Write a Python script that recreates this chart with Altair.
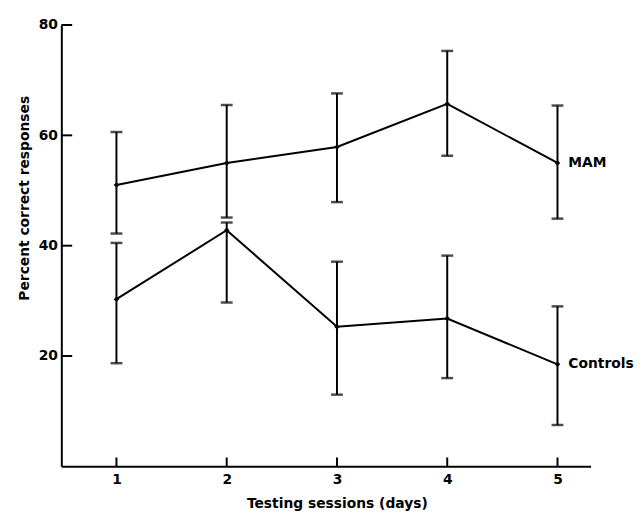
import altair as alt
import pandas as pd

sessions = [1, 2, 3, 4, 5]
groups = ["MAM", "Controls"]
mam_mean = [51.0, 55.0, 57.9, 65.7, 55.0]
mam_upper = [60.6, 65.5, 67.6, 75.3, 65.4]
mam_lower = [42.2, 45.1, 47.9, 56.3, 44.9]
ctrl_mean = [30.3, 42.8, 25.3, 26.8, 18.5]
ctrl_upper = [40.5, 44.2, 37.1, 38.2, 29.0]
ctrl_lower = [18.7, 29.7, 13.0, 16.0, 7.5]
x_ticks = [1, 2, 3, 4, 5]
y_ticks = [20, 40, 60, 80]

rows = []
for g, m, hi, lo in [("MAM", mam_mean, mam_upper, mam_lower),
                     ("Controls", ctrl_mean, ctrl_upper, ctrl_lower)]:
    for s, a, b, c in zip(sessions, m, hi, lo):
        rows.append({"group": g, "session": s, "pct": a, "hi": b, "lo": c})
df = pd.DataFrame(rows)
last = df[df["session"] == sessions[-1]]
xt = pd.DataFrame({"session": x_ticks})
yt = pd.DataFrame({"pct": y_ticks})

FONT = "DejaVu Sans"
xs = alt.Scale(domain=[0.5, 5.3], nice=False, zero=False)
ys = alt.Scale(domain=[0, 80], nice=False, zero=True)
XT = "Testing sessions (days)"
YT = "Percent correct responses"

xaxis = alt.Axis(values=x_ticks, format="d", title=XT, titleX=279, titleY=38,
                 titleBaseline="middle", labelPadding=6)
yaxis = alt.Axis(values=y_ticks, format="d", title=YT, titleAngle=270,
                 titleX=-37, titleY=175, titleAlign="center",
                 titleBaseline="middle", labelPadding=4)

X = alt.X("session:Q", scale=xs, axis=xaxis)
Y = alt.Y("pct:Q", scale=ys, axis=yaxis)

base = alt.Chart(df)
lines = base.mark_line(color="black", strokeWidth=2).encode(x=X, y=Y, detail="group:N")
pts = base.mark_point(filled=True, color="black", size=32, opacity=1,
                      shape="diamond").encode(x=X, y=Y)
bars = base.mark_rule(color="black", strokeWidth=2).encode(
    x=X, y=alt.Y("lo:Q", scale=ys, axis=yaxis), y2="hi:Q")
cap_hi = base.mark_tick(color="black", thickness=2.5, size=12, orient="horizontal").encode(
    x=X, y=alt.Y("hi:Q", scale=ys, axis=yaxis))
cap_lo = base.mark_tick(color="black", thickness=2.5, size=12, orient="horizontal").encode(
    x=X, y=alt.Y("lo:Q", scale=ys, axis=yaxis))
labels = alt.Chart(last).mark_text(align="left", baseline="middle", dx=11,
                                   font=FONT, fontSize=14, fontWeight="bold",
                                   color="black").encode(x=X, y=Y, text="group:N")
xticks = alt.Chart(xt).mark_rule(color="black", strokeWidth=2).encode(
    x=X, y=alt.value(447), y2=alt.value(438))
yticks = alt.Chart(yt).mark_rule(color="black", strokeWidth=2).encode(
    y=Y, x=alt.value(0), x2=alt.value(11))

chart = alt.layer(bars, cap_hi, cap_lo, lines, pts, labels, xticks, yticks).properties(
    width=536, height=447,
    autosize=alt.AutoSizeParams(type="none"),
    padding={"left": 54, "top": 14, "right": 45, "bottom": 43},
    background="white",
).configure_view(stroke=None).configure_axis(
    grid=False, ticks=False, tickSize=0, domainColor="black", domainWidth=2,
    labelFont=FONT, labelFontSize=14, labelFontWeight="bold", labelColor="black",
    titleFont=FONT, titleFontSize=14, titleFontWeight="bold", titleColor="black",
)

chart.save("out.html", embed_options={"renderer": "svg", "actions": False})
